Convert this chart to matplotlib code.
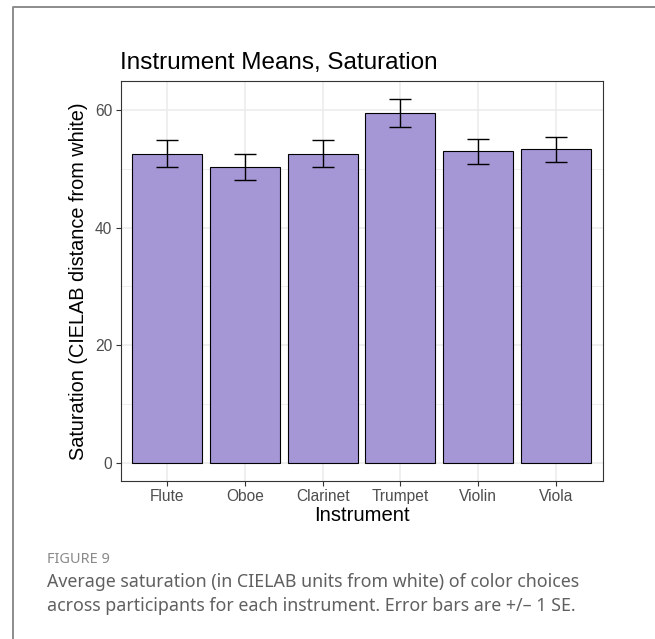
import matplotlib.pyplot as plt
from matplotlib.lines import Line2D
import numpy as np

instruments = ["Flute", "Oboe", "Clarinet", "Trumpet", "Violin", "Viola"]
means = [52.6, 50.3, 52.6, 59.45, 53.0, 53.3]
se = [2.25, 2.2, 2.3, 2.4, 2.15, 2.05]

bar_color = "#A596D5"
grid_color = "#EBEBEB"

fig = plt.figure(figsize=(6.55, 6.39), dpi=100)

# panel placed in pixel terms (fig is 655 x 639)
W, H = 655, 639
left, right, top, bottom = 120.5, 602.7, 81, 481
ax = fig.add_axes([left / W, 1 - bottom / H, (right - left) / W, (bottom - top) / H])

x = np.arange(1, len(instruments) + 1)
ax.bar(x, means, width=0.9, color=bar_color, edgecolor="black", linewidth=0.8, zorder=3)
ax.errorbar(x, means, yerr=se, fmt="none", ecolor="black", elinewidth=1.0,
            capsize=7.8, capthick=1.0, zorder=4)

# ggplot-style expansion of the scales
ytop = max(m + s for m, s in zip(means, se))
ax.set_ylim(-0.05 * ytop, ytop * 1.05)
ax.set_xlim(0.4, len(instruments) + 0.6)

ax.set_yticks([0, 20, 40, 60])
ax.set_yticks([10, 30, 50], minor=True)
ax.set_xticks(x)
ax.set_xticklabels(instruments)

ax.grid(True, which="major", color=grid_color, linewidth=1.1, zorder=0)
ax.grid(True, which="minor", axis="y", color=grid_color, linewidth=0.6, zorder=0)
ax.set_axisbelow(True)

for s in ax.spines.values():
    s.set_color("#333333")
    s.set_linewidth(0.8)

ax.tick_params(which="major", length=3.5, width=0.8, color="#333333",
               labelsize=11.2, labelcolor="#4D4D4D", pad=2.5)
ax.tick_params(which="minor", length=0)
for lab in ax.get_xticklabels() + ax.get_yticklabels():
    lab.set_family("Liberation Sans")

ax.set_xlabel("Instrument", fontsize=14.6, family="Liberation Sans", labelpad=1)
ax.set_ylabel("Saturation (CIELAB distance from white)", fontsize=14.3,
              family="Liberation Sans", labelpad=5)
ax.set_title("Instrument Means, Saturation", fontsize=17.5, family="Liberation Sans",
             loc="left", pad=9)

# card border along the top and left edges
fig.add_artist(Line2D([13 / W, 13 / W, 1], [0, 1 - 7 / H, 1 - 7 / H],
                      transform=fig.transFigure, color="#8C8C8C", linewidth=1.4))

fig.text(47 / W, 1 - 563 / H, "FIGURE 9", fontsize=10.5, color="#8A8A8A",
         family="Noto Sans", fontweight="medium", va="baseline")
fig.text(47 / W, 1 - 587 / H, "Average saturation (in CIELAB units from white) of color choices",
         fontsize=12.8, color="#606060", family="Noto Sans", fontweight="light", va="baseline")
fig.text(47 / W, 1 - 611 / H, "across participants for each instrument. Error bars are +/\u2013 1 SE.",
         fontsize=12.8, color="#606060", family="Noto Sans", fontweight="light", va="baseline")

fig.savefig("out.png", dpi=100)
